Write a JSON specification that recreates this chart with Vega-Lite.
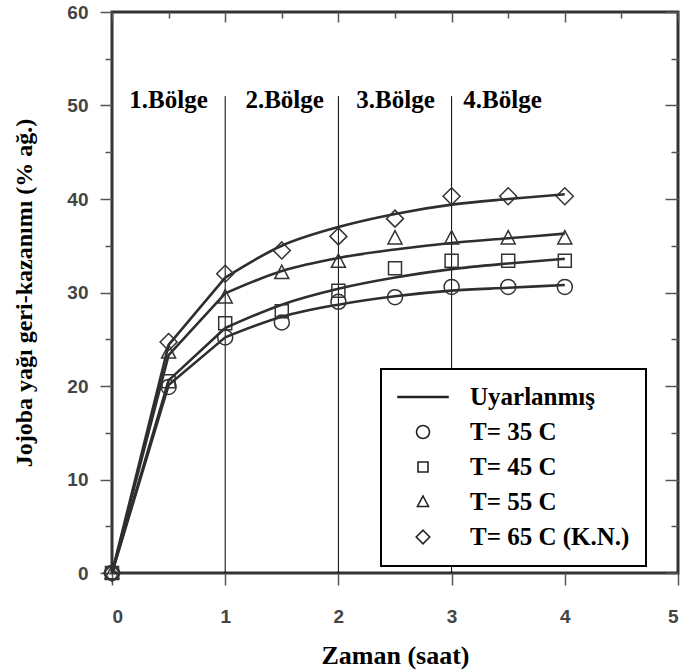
{
  "$schema": "https://vega.github.io/schema/vega-lite/v6.json",
  "width": 566,
  "height": 561,
  "autosize": "none",
  "padding": {"left": 112, "top": 12, "right": 7, "bottom": 99},
  "background": "white",
  "config": {
    "view": {"stroke": "#333", "strokeWidth": 3},
    "legend": {"strokeWidth": 2},
    "axis": {
      "domain": false,
      "grid": false,
      "labelFont": "Liberation Sans",
      "labelFontWeight": "bold",
      "labelFontSize": 19,
      "labelColor": "#444",
      "tickColor": "#555",
      "tickWidth": 1.5,
      "titleFont": "Liberation Serif",
      "titleFontWeight": "bold",
      "titleFontSize": 24,
      "titleColor": "black"
    }
  },
  "datasets": {
    "fitted": [
      {"t": 0, "v": 0, "seri": "T= 35 C"}, {"t": 0.5, "v": 20.1, "seri": "T= 35 C"}, {"t": 1, "v": 25.2, "seri": "T= 35 C"}, {"t": 1.5, "v": 27.4, "seri": "T= 35 C"}, {"t": 2, "v": 28.7, "seri": "T= 35 C"}, {"t": 2.5, "v": 29.6, "seri": "T= 35 C"}, {"t": 3, "v": 30.2, "seri": "T= 35 C"}, {"t": 3.5, "v": 30.5, "seri": "T= 35 C"}, {"t": 4, "v": 30.8, "seri": "T= 35 C"},
      {"t": 0, "v": 0, "seri": "T= 45 C"}, {"t": 0.5, "v": 20.6, "seri": "T= 45 C"}, {"t": 1, "v": 26.2, "seri": "T= 45 C"}, {"t": 1.5, "v": 28.7, "seri": "T= 45 C"}, {"t": 2, "v": 30.4, "seri": "T= 45 C"}, {"t": 2.5, "v": 31.6, "seri": "T= 45 C"}, {"t": 3, "v": 32.5, "seri": "T= 45 C"}, {"t": 3.5, "v": 33.1, "seri": "T= 45 C"}, {"t": 4, "v": 33.6, "seri": "T= 45 C"},
      {"t": 0, "v": 0, "seri": "T= 55 C"}, {"t": 0.5, "v": 23.3, "seri": "T= 55 C"}, {"t": 1, "v": 29.9, "seri": "T= 55 C"}, {"t": 1.5, "v": 32.3, "seri": "T= 55 C"}, {"t": 2, "v": 33.7, "seri": "T= 55 C"}, {"t": 2.5, "v": 34.6, "seri": "T= 55 C"}, {"t": 3, "v": 35.3, "seri": "T= 55 C"}, {"t": 3.5, "v": 35.8, "seri": "T= 55 C"}, {"t": 4, "v": 36.3, "seri": "T= 55 C"},
      {"t": 0, "v": 0, "seri": "T= 65 C (K.N.)"}, {"t": 0.5, "v": 24.4, "seri": "T= 65 C (K.N.)"}, {"t": 1, "v": 31.6, "seri": "T= 65 C (K.N.)"}, {"t": 1.5, "v": 35.0, "seri": "T= 65 C (K.N.)"}, {"t": 2, "v": 37.0, "seri": "T= 65 C (K.N.)"}, {"t": 2.5, "v": 38.4, "seri": "T= 65 C (K.N.)"}, {"t": 3, "v": 39.4, "seri": "T= 65 C (K.N.)"}, {"t": 3.5, "v": 40.0, "seri": "T= 65 C (K.N.)"}, {"t": 4, "v": 40.5, "seri": "T= 65 C (K.N.)"}
    ],
    "observed": [
      {"t": 0, "v": 0, "seri": "T= 35 C"}, {"t": 0.5, "v": 19.9, "seri": "T= 35 C"}, {"t": 1, "v": 25.2, "seri": "T= 35 C"}, {"t": 1.5, "v": 26.8, "seri": "T= 35 C"}, {"t": 2, "v": 29.0, "seri": "T= 35 C"}, {"t": 2.5, "v": 29.5, "seri": "T= 35 C"}, {"t": 3, "v": 30.6, "seri": "T= 35 C"}, {"t": 3.5, "v": 30.6, "seri": "T= 35 C"}, {"t": 4, "v": 30.6, "seri": "T= 35 C"},
      {"t": 0, "v": 0, "seri": "T= 45 C"}, {"t": 0.5, "v": 20.5, "seri": "T= 45 C"}, {"t": 1, "v": 26.7, "seri": "T= 45 C"}, {"t": 1.5, "v": 28.0, "seri": "T= 45 C"}, {"t": 2, "v": 30.2, "seri": "T= 45 C"}, {"t": 2.5, "v": 32.6, "seri": "T= 45 C"}, {"t": 3, "v": 33.4, "seri": "T= 45 C"}, {"t": 3.5, "v": 33.4, "seri": "T= 45 C"}, {"t": 4, "v": 33.4, "seri": "T= 45 C"},
      {"t": 0, "v": 0, "seri": "T= 55 C"}, {"t": 0.5, "v": 23.6, "seri": "T= 55 C"}, {"t": 1, "v": 29.5, "seri": "T= 55 C"}, {"t": 1.5, "v": 32.1, "seri": "T= 55 C"}, {"t": 2, "v": 33.3, "seri": "T= 55 C"}, {"t": 2.5, "v": 35.8, "seri": "T= 55 C"}, {"t": 3, "v": 35.8, "seri": "T= 55 C"}, {"t": 3.5, "v": 35.8, "seri": "T= 55 C"}, {"t": 4, "v": 35.8, "seri": "T= 55 C"},
      {"t": 0, "v": 0, "seri": "T= 65 C (K.N.)"}, {"t": 0.5, "v": 24.7, "seri": "T= 65 C (K.N.)"}, {"t": 1, "v": 32.0, "seri": "T= 65 C (K.N.)"}, {"t": 1.5, "v": 34.5, "seri": "T= 65 C (K.N.)"}, {"t": 2, "v": 36.0, "seri": "T= 65 C (K.N.)"}, {"t": 2.5, "v": 37.9, "seri": "T= 65 C (K.N.)"}, {"t": 3, "v": 40.3, "seri": "T= 65 C (K.N.)"}, {"t": 3.5, "v": 40.3, "seri": "T= 65 C (K.N.)"}, {"t": 4, "v": 40.3, "seri": "T= 65 C (K.N.)"}
    ],
    "sinirlar": [{"t": 1, "alt": 0, "ust": 51}, {"t": 2, "alt": 0, "ust": 51}, {"t": 3, "alt": 0, "ust": 51}],
    "bolgeler": [
      {"t": 0.5, "v": 50.6, "ad": "1.Bölge"},
      {"t": 1.525, "v": 50.6, "ad": "2.Bölge"},
      {"t": 2.505, "v": 50.6, "ad": "3.Bölge"},
      {"t": 3.45, "v": 50.6, "ad": "4.Bölge"}
    ]
  },
  "layer": [
    {
      "data": {"name": "sinirlar"},
      "mark": {"type": "rule", "color": "black", "strokeWidth": 1},
      "encoding": {
        "x": {"field": "t", "type": "quantitative", "scale": {"domain": [0, 5], "nice": false},
          "axis": {"orient": "top", "title": null, "labels": false, "values": [0, 0.5, 1, 1.5, 2, 2.5, 3, 3.5, 4, 4.5, 5],
            "tickSize": {"condition": {"test": "datum.value % 1 === 0", "value": -10}, "value": -6}}},
        "y": {"field": "alt", "type": "quantitative",
          "axis": {"orient": "right", "title": null, "labels": false, "values": [0, 5, 10, 15, 20, 25, 30, 35, 40, 45, 50, 55, 60],
            "tickSize": {"condition": {"test": "datum.value % 10 === 0", "value": -13}, "value": -7}}},
        "y2": {"field": "ust"}
      }
    },
    {
      "data": {"name": "fitted"},
      "transform": [{"filter": "datum.t <= 1"}],
      "mark": {"type": "line", "interpolate": "linear", "color": "#2e2e2e", "strokeWidth": 2.6},
      "encoding": {
        "x": {"field": "t", "type": "quantitative", "scale": {"domain": [0, 5], "nice": false},
          "axis": {"orient": "bottom", "title": "Zaman (saat)", "titleFontSize": 26, "values": [0, 0.5, 1, 1.5, 2, 2.5, 3, 3.5, 4, 4.5, 5],
            "format": "d", "labelExpr": "datum.value % 1 === 0 ? datum.label : ''", "labelPadding": 22, "titlePadding": 16,
            "tickSize": {"condition": {"test": "datum.value % 1 === 0", "value": 12}, "value": 7}}},
        "y": {"field": "v", "type": "quantitative", "scale": {"domain": [0, 60], "nice": false},
          "axis": {"orient": "left", "title": "Jojoba yağı geri-kazanımı (% ağ.)", "values": [0, 5, 10, 15, 20, 25, 30, 35, 40, 45, 50, 55, 60],
            "labelExpr": "datum.value % 10 === 0 ? datum.label : ''", "labelPadding": 12, "titlePadding": 30,
            "tickSize": {"condition": {"test": "datum.value % 10 === 0", "value": 12}, "value": 7}}},
        "detail": {"field": "seri"}
      }
    },
    {
      "data": {"name": "fitted"},
      "transform": [{"filter": "datum.t >= 1"}],
      "mark": {"type": "line", "interpolate": "monotone", "color": "#2e2e2e", "strokeWidth": 2.6},
      "encoding": {
        "x": {"field": "t", "type": "quantitative", "axis": null},
        "y": {"field": "v", "type": "quantitative", "axis": null},
        "detail": {"field": "seri"}
      }
    },
    {
      "data": {"name": "observed"},
      "mark": {"type": "point", "filled": false, "color": "#333", "strokeWidth": 1.5, "opacity": 1},
      "encoding": {
        "x": {"field": "t", "type": "quantitative", "axis": null},
        "y": {"field": "v", "type": "quantitative", "axis": null},
        "size": {"condition": [
            {"test": "datum.seri === 'T= 65 C (K.N.)'", "value": 3960},
            {"test": "datum.seri === 'T= 45 C'", "value": 4225},
            {"test": "datum.seri === 'T= 55 C'", "value": 4050}],
          "value": 3330},
        "shape": {"field": "seri", "type": "nominal",
          "scale": {"domain": ["Uyarlanmış", "T= 35 C", "T= 45 C", "T= 55 C", "T= 65 C (K.N.)"],
                    "range": [
                      "M-1,-0.02 L1,-0.02 L1,0.02 L-1,0.02 Z",
                      "M0.26,0 C0.26,0.1436 0.1436,0.26 0,0.26 C-0.1436,0.26 -0.26,0.1436 -0.26,0 C-0.26,-0.1436 -0.1436,-0.26 0,-0.26 C0.1436,-0.26 0.26,-0.1436 0.26,0 Z",
                      "M-0.2,-0.2 L0.2,-0.2 L0.2,0.2 L-0.2,0.2 Z",
                      "M0,-0.24 L0.22,0.18 L-0.22,0.18 Z",
                      "M0,-0.27 L0.27,0 L0,0.27 L-0.27,0 Z"]},
          "legend": {"orient": "none", "legendX": 269, "legendY": 357, "title": null,
            "strokeColor": "black", "fillColor": "white", "padding": 16,
            "clipHeight": 24, "rowPadding": 10, "symbolSize": 2500,
            "labelFont": "Liberation Serif", "labelFontWeight": "bold", "labelFontSize": 25, "labelColor": "black",
            "labelOffset": 21, "labelLimit": 300,
            "symbolStrokeColor": "#222", "symbolStrokeWidth": 1.6, "symbolFillColor": "transparent"}}
      }
    },
    {
      "data": {"name": "bolgeler"},
      "mark": {"type": "text", "font": "Liberation Serif", "fontWeight": "bold", "fontSize": 25, "color": "black", "align": "center", "baseline": "middle"},
      "encoding": {
        "x": {"field": "t", "type": "quantitative", "axis": null},
        "y": {"field": "v", "type": "quantitative", "axis": null},
        "text": {"field": "ad"}
      }
    }
  ]
}
